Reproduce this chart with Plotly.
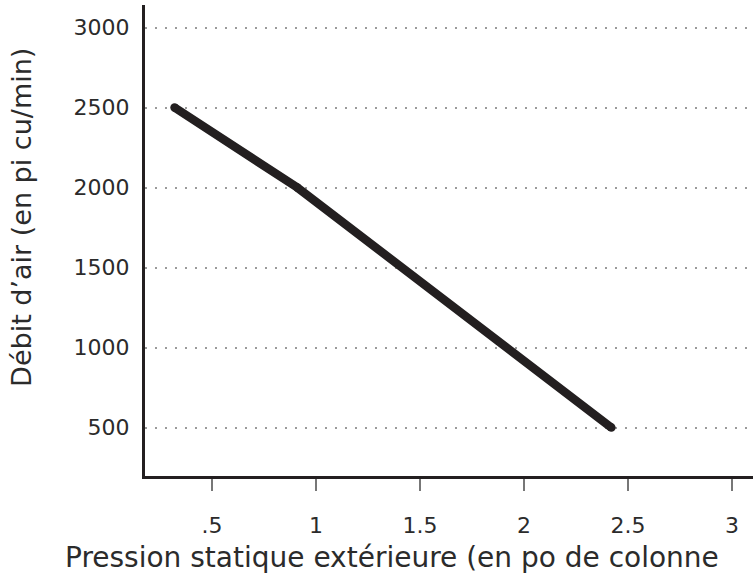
import plotly.graph_objects as go

pressure = [0.32, 0.91, 2.42]
airflow = [2500, 2000, 500]

x_tickvals = [0.5, 1, 1.5, 2, 2.5, 3]
x_ticktext = [".5", "1", "1.5", "2", "2.5", "3"]
y_tickvals = [500, 1000, 1500, 2000, 2500, 3000]
y_ticktext = ["500", "1000", "1500", "2000", "2500", "3000"]

x_title = "Pression statique extérieure (en po de colonne"
y_title = "Débit d’air (en pi cu/min)"

INK = "#231f20"
TXT = "#2b2b2b"
FONT = "DejaVu Sans"

fig = go.Figure()
fig.add_trace(go.Scatter(
    x=pressure, y=airflow, mode="lines+markers",
    line=dict(color=INK, width=8.5),
    marker=dict(color=INK, size=8.5, line=dict(width=0)),
    hoverinfo="skip", showlegend=False,
))

fig.update_layout(
    width=753, height=581,
    margin=dict(l=145, r=0, t=5, b=105),
    paper_bgcolor="white", plot_bgcolor="white",
    font=dict(family=FONT, color=TXT, size=22),
    xaxis=dict(
        range=[0.178, 3.101], tickvals=x_tickvals, ticktext=x_ticktext,
        showgrid=False, zeroline=False,
        showline=True, linecolor=INK, linewidth=3,
        ticks="outside", ticklen=12, tickwidth=2, tickcolor="#777",
        ticklabelstandoff=16,
        tickfont=dict(family=FONT, size=22, color=TXT),
    ),
    yaxis=dict(
        range=[197, 3141], tickvals=y_tickvals, ticktext=y_ticktext,
        showgrid=True, gridcolor="#9a9a9a", gridwidth=1.5, griddash="2px,8px",
        zeroline=False,
        showline=True, linecolor=INK, linewidth=3,
        ticks="", ticklabelstandoff=8,
        tickfont=dict(family=FONT, size=22, color=TXT),
    ),
    annotations=[
        dict(text=x_title, xref="paper", yref="paper", x=0, y=0,
             xanchor="left", yanchor="middle", xshift=-82, yshift=-81,
             showarrow=False, font=dict(family=FONT, size=28, color=TXT)),
        dict(text=y_title, xref="paper", yref="paper", x=0, y=0.548,
             xanchor="center", yanchor="middle", xshift=-123, textangle=-90,
             showarrow=False, font=dict(family=FONT, size=27, color=TXT)),
    ],
)

fig.write_html(
    "out.html",
    config={"displayModeBar": False},
    post_script="document.body.style.margin='0';document.body.style.overflow='hidden';",
)
